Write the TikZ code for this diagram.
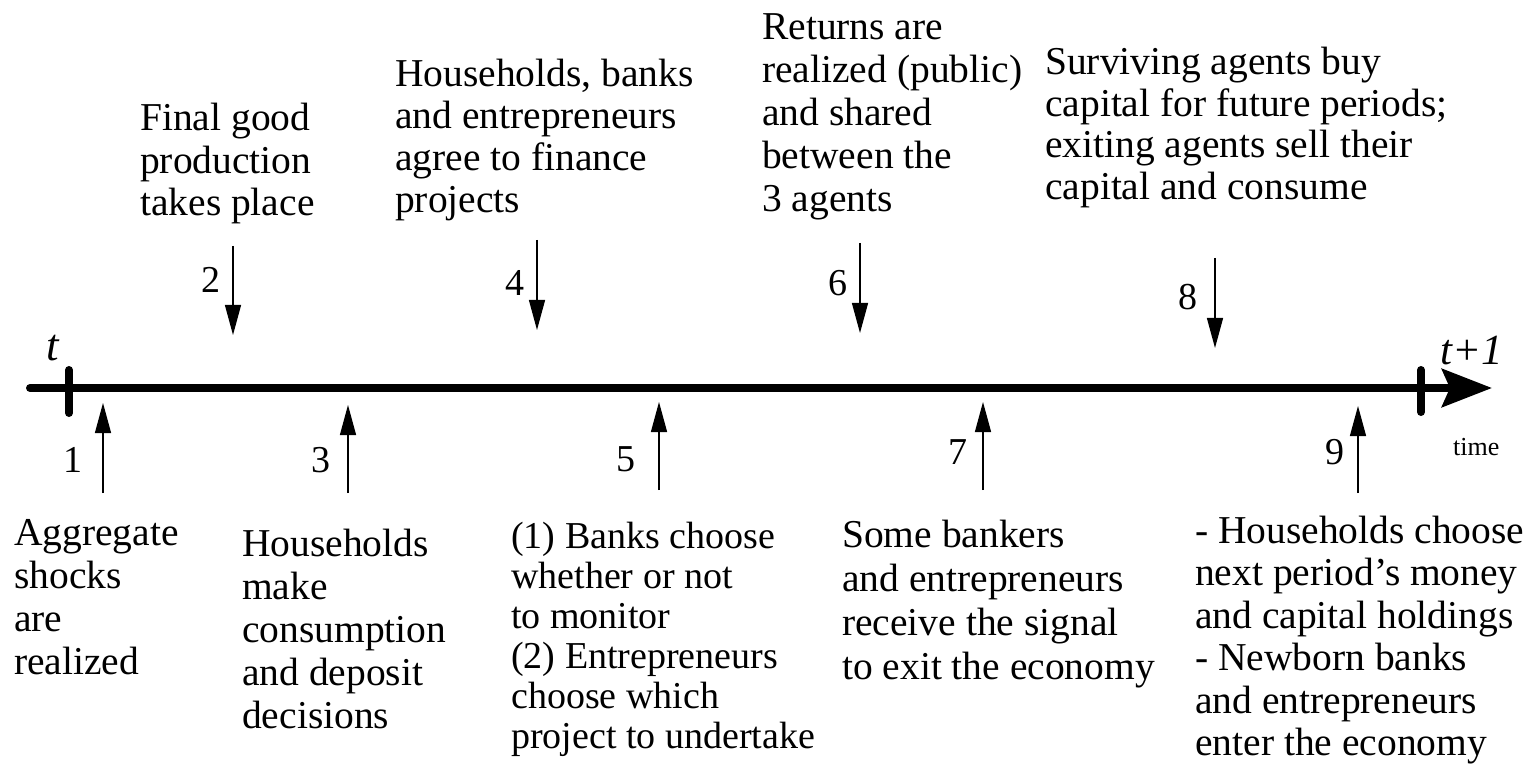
\documentclass[tikz,border=0pt]{standalone}
\usepackage{fontspec}
\setmainfont{Liberation Serif}
\usetikzlibrary{arrows.meta}
\newcommand{\blk}[1]{\begin{tabular}[t]{@{}l@{}}#1\end{tabular}}
\begin{document}
\begin{tikzpicture}[x=1pt,y=-1pt,
  txt/.style={inner sep=0pt, anchor=base west, font=\fontsize{39.5}{43}\selectfont},
  num/.style={inner sep=0pt, font=\fontsize{38}{40}\selectfont},
  evarrow/.style={line width=1.3pt, -{Triangle[length=30pt,width=16pt]}},
  timeaxis/.style={line width=8pt, line cap=round, -{Stealth[length=50pt,width=38pt,inset=8pt]}},
  tickmark/.style={line width=8pt, line cap=round}]
\useasboundingbox (0,0) rectangle (1535,767);

% axis
\coordinate (a0) at (30,388);
\coordinate (a1) at (1492,388);
\draw[timeaxis] (a0) -- (a1);
\coordinate (t0a) at (69,370); \coordinate (t0b) at (69,413);
\coordinate (t1a) at (1421,370); \coordinate (t1b) at (1421,412);
\draw[tickmark] (t0a) -- (t0b);
\draw[tickmark] (t1a) -- (t1b);
\node[inner sep=0pt, anchor=base west, font=\fontsize{45}{45}\selectfont\itshape] (tl) at (46,361) {t};
\node[inner sep=0pt, anchor=base west, font=\fontsize{43}{43}\selectfont\itshape] (t1l) at (1440,365) {t+1};
\node[inner sep=0pt, anchor=base west, font=\fontsize{26}{26}\selectfont] (timel) at (1453,455) {time};

% top events (arrows pointing down)
\coordinate (e2a) at (233,246); \coordinate (e2b) at (233,335);
\coordinate (e4a) at (537,240); \coordinate (e4b) at (537,330);
\coordinate (e6a) at (860,243); \coordinate (e6b) at (860,333);
\coordinate (e8a) at (1215,258); \coordinate (e8b) at (1215,348);
\draw[evarrow] (e2a) -- (e2b);
\draw[evarrow] (e4a) -- (e4b);
\draw[evarrow] (e6a) -- (e6b);
\draw[evarrow] (e8a) -- (e8b);

% bottom events (arrows pointing up)
\coordinate (e1a) at (103,493); \coordinate (e1b) at (103,403);
\coordinate (e3a) at (348,493); \coordinate (e3b) at (348,405);
\coordinate (e5a) at (659,490); \coordinate (e5b) at (659,402);
\coordinate (e7a) at (983,490); \coordinate (e7b) at (983,402);
\coordinate (e9a) at (1358,493); \coordinate (e9b) at (1358,406);
\draw[evarrow] (e1a) -- (e1b);
\draw[evarrow] (e3a) -- (e3b);
\draw[evarrow] (e5a) -- (e5b);
\draw[evarrow] (e7a) -- (e7b);
\draw[evarrow] (e9a) -- (e9b);

% numbers
\node[num] (n1) at (73,460) {1};
\node[num] (n2) at (211,280) {2};
\node[num] (n3) at (321,460) {3};
\node[num] (n4) at (515,283) {4};
\node[num] (n5) at (626,459) {5};
\node[num] (n6) at (838,283) {6};
\node[num] (n7) at (958,452) {7};
\node[num] (n8) at (1188,297) {8};
\node[num] (n9) at (1335,452) {9};

% top texts
\node[txt, font=\fontsize{39.5}{42.5}\selectfont] (b2) at (140,131) {\blk{Final good\\production\\takes place}};
\node[txt, font=\fontsize{39.5}{42}\selectfont] (b4) at (395,87) {\blk{Households, banks\\and entrepreneurs\\agree to finance\\projects}};
\node[txt, font=\fontsize{39.5}{43}\selectfont] (b6) at (762,40) {\blk{Returns are\\realized (public)\\and shared\\between the\\3 agents}};
\node[txt, font=\fontsize{39.5}{41.5}\selectfont] (b8) at (1045,75) {\blk{Surviving agents buy\\capital for future periods;\\exiting agents sell their\\capital and consume}};

% bottom texts
\node[txt, font=\fontsize{39.5}{43}\selectfont] (b1) at (14,545) {\blk{Aggregate\\shocks\\are\\realized}};
\node[txt, font=\fontsize{39.5}{43}\selectfont] (b3) at (242,556) {\blk{Households\\make\\consumption\\and deposit\\decisions}};
\node[txt, font=\fontsize{38}{40}\selectfont] (b5) at (511,548) {\blk{(1) Banks choose\\whether or not\\to monitor\\(2) Entrepreneurs\\choose which\\project to undertake}};
\node[txt, font=\fontsize{39.5}{44}\selectfont] (b7) at (842,547) {\blk{Some bankers\\and entrepreneurs\\receive the signal\\to exit the economy}};
\node[txt, font=\fontsize{39.5}{42.5}\selectfont] (b9) at (1195,543) {\blk{- Households choose\\next period’s money\\and capital holdings\\- Newborn banks\\and entrepreneurs\\enter the economy}};
\end{tikzpicture}
\end{document}
